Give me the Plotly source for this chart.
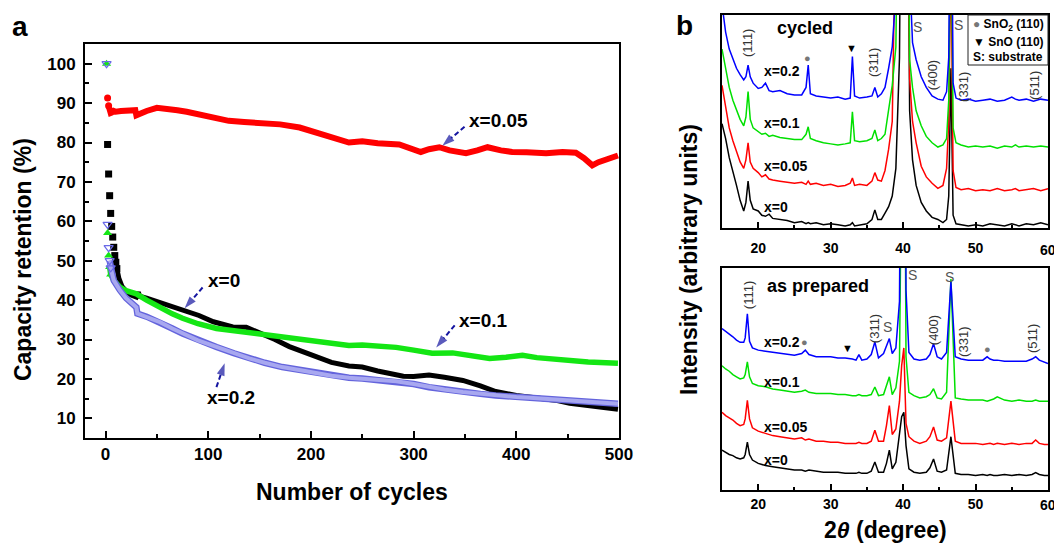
import plotly.graph_objects as go

FONT = "Liberation Sans, Arial, Helvetica, sans-serif"

# ---------------- Panel a: capacity retention vs cycle ----------------
CYC_BLACK = [2, 3, 4, 5, 6, 7, 8, 9, 10, 11, 13, 16, 20, 25, 30, 32, 33, 40, 52, 65,
             77, 91, 105, 124, 137, 150, 165, 179, 192, 205, 220, 237, 250, 265, 277, 290, 300, 315, 330, 348,
             365, 380, 400, 415, 429, 440, 452, 475, 499]
RET_BLACK = [79.5, 72, 66.5, 62, 58.7, 56, 53.4, 51.3, 49.6, 48, 45.5, 43.5, 42.3, 41.3, 40.8, 42, 41, 40.5, 39.5, 38.5,
             37.3, 36.1, 34.5, 33.2, 33.1, 31.8, 30, 28.2, 27, 25.6, 24.2, 23.3, 23, 22, 21.4, 20.7, 20.6, 21, 20.4, 19.6,
             18.2, 16.8, 15.8, 15.4, 15.0, 14.5, 13.8, 13, 12.3]

CYC_RED = [2, 3, 4, 5, 6, 8, 10, 15, 20, 25, 29, 30, 32, 40, 50, 60, 70, 79, 90, 100,
           108, 120, 135, 156, 170, 189, 205, 221, 237, 250, 265, 286, 300, 307, 315, 325, 335, 351, 362, 372,
           385, 396, 410, 429, 445, 458, 466, 474, 480, 490, 499]
RET_RED = [91.3, 89.3, 88.2, 87.5, 87.6, 88, 87.8, 88, 88, 88.1, 88.2, 86.9, 87.2, 88, 88.8, 88.6, 88.2, 87.8, 87.2, 86.5,
           86, 85.5, 85.2, 84.8, 84.6, 83.8, 82.5, 81.3, 80, 80.3, 79.8, 79.5, 78.3, 77.6, 78.3, 78.8, 78, 77.3, 78, 78.8,
           78, 77.6, 77.5, 77.3, 77.6, 77.4, 76, 74.2, 75, 75.8, 76.7]

CYC_GREEN = [1, 2, 3, 4, 5, 8, 14, 20, 30, 40, 52, 65, 75, 90, 108, 125, 140, 155, 172, 190,
             205, 218, 237, 250, 265, 283, 300, 318, 338, 355, 374, 390, 406, 420, 445, 470, 499]
RET_GREEN = [100, 57, 51.3, 48.4, 46.5, 45, 43.3, 42.4, 41.6, 40, 38.2, 36.5, 35.4, 34, 32.8, 32.2, 31.9, 31.3, 30.6, 30,
             29.4, 29, 28.5, 28.6, 28.4, 28, 27.3, 26.5, 26.6, 25.9, 25.2, 25.5, 26, 25.4, 24.7, 24.3, 24]

CYC_BLUE = [1, 2, 3, 4, 5, 8, 14, 20, 30, 31, 40, 53, 65, 75, 90, 108, 125, 140, 155, 172,
            190, 205, 220, 237, 250, 265, 283, 300, 315, 330, 348, 365, 380, 400, 413, 430, 445, 470, 499]
RET_BLUE = [100, 59.2, 53.3, 50, 48.2, 45, 42.5, 40.5, 38.2, 36.6, 35.8, 34.4, 32.8, 31.5, 29.8, 28.1, 26.5, 25.2, 24.1, 23,
            22.2, 21.4, 20.8, 20.3, 20.1, 19.8, 19.4, 18.7, 17.9, 17.3, 16.7, 16.2, 15.8, 15.4, 15.2, 14.9, 14.6, 14.1, 13.7]

# label text, label position, arrow tail, arrow tip (data units of panel a)
LABELS_A = [
    ("x=0.05", (351.5, 85.6), (349.6, 84.0), (328, 79.2)),
    ("x=0", (98, 45.0), (94.5, 43.2), (77, 37.9)),
    ("x=0.2", (96.4, 15.3), (108, 17.9), (116, 24.0)),
    ("x=0.1", (342, 34.8), (340, 33.6), (322, 28.0)),
]

# ---------------- Panel b: XRD patterns ----------------
TH_TOP = [15, 15.5, 16, 16.5, 17, 17.5, 18, 18.3, 18.6, 18.9, 19.3, 20, 20.5, 21, 21.5, 22, 23, 24, 25, 26,
          26.6, 26.9, 27.2, 28, 29, 30, 31, 32, 32.7, 33, 33.3, 34, 35, 35.7, 36.1, 36.5, 37, 37.5, 38, 38.5,
          39, 39.5, 40.2, 40.9, 41.3, 41.8, 42.5, 43.2, 44, 44.8, 45.5, 46, 46.3, 46.6, 46.9, 47.3, 48, 49, 50, 51,
          52, 53, 54, 55, 55.5, 56, 57, 58, 59, 60]
CYC_X0 = [49, 42, 33, 27, 20, 13, 8, 12, 22, 13, 9, 8, 6, 5.5, 6.5, 4.5, 4, 3.5, 2.5, 3,
          2, 2.5, 2, 2.5, 1.5, 2, 1.5, 1, 1.5, 2.5, 1, 1.5, 2, 4, 8.5, 4, 4, 7, 10, 15,
          28, 80, 400, 55, 32, 20, 12, 8, 5, 4, 2.5, 4, 15, 75, 6, 2, 1.5, 1, 1.5, 1,
          2, 1.5, 1, 2, 1.5, 1, 2, 1.5, 2.5, 1.5]
CYC_X005 = [67, 57, 47, 41, 36, 31, 28, 32, 40, 31, 28, 26, 24, 25, 23, 22.5, 22, 21.5, 21, 21.5,
            20.5, 22, 20.5, 21, 20, 20.5, 19.5, 20, 21, 23.5, 20, 20.5, 20, 22, 26, 22.5, 22, 27, 37, 50,
            87, 200, 400, 70, 50, 40, 29, 24, 21, 18.6, 20, 28, 50, 130, 27, 19, 18, 18.5, 17.5, 18,
            17.5, 18.5, 17.5, 18, 18.5, 17.5, 18, 18.5, 17.5, 18.5]
CYC_X01 = [84, 75, 66, 60, 55, 51, 48, 52, 64, 51, 47, 45, 44, 44.5, 43, 43.5, 42.5, 42, 41.5, 41.5,
           44, 47.5, 42, 41, 40, 39.5, 39, 39.5, 40, 54.5, 41, 40.5, 41, 42, 46, 41, 42, 44, 55, 67,
           85, 200, 400, 79, 66, 55, 48, 43, 40, 38, 39, 42, 60, 160, 47, 40, 39, 38, 38.5, 38,
           38.5, 37.5, 38.5, 38, 39, 38, 38.5, 38, 38.5, 38]
CYC_X02 = [105, 92, 84, 79, 75, 72, 69.5, 71, 76.5, 71, 68, 65.5, 66, 68, 64.5, 64, 64.5, 63, 62.5, 62.5,
           66, 76.5, 63, 62, 61.5, 61, 61.5, 60.5, 61, 80.5, 62, 61, 61.5, 62, 66, 61.5, 63, 66, 75, 85,
           110, 250, 400, 120, 87, 79, 71, 66, 62, 60.5, 60, 64, 80, 200, 68, 61, 60, 60.5, 59.5, 60,
           60.5, 59.5, 60, 61.5, 60.5, 60, 60.5, 59.5, 60.5, 60]

TH_BOT = [15, 15.5, 16, 16.5, 17, 17.5, 18, 18.2, 18.5, 18.8, 19.2, 20, 21, 22, 23, 24, 25, 26, 26.5, 27,
          28, 29, 30, 31, 32, 33, 33.5, 33.9, 34.3, 35, 35.6, 36.1, 36.6, 37.3, 37.7, 38.1, 38.5, 39, 39.5, 39.8,
          40.1, 40.4, 40.8, 41.5, 42.3, 43.2, 43.7, 44.2, 44.7, 45.3, 46, 46.6, 47.2, 48, 49, 50, 51, 51.6, 52, 52.5,
          53, 54, 55, 56, 57, 57.8, 58.3, 58.8, 59.5, 60]
PREP_X0 = [18, 17, 16, 15.5, 14.5, 14, 14.5, 16, 21.6, 16, 13.5, 12, 11, 10.5, 10, 9.5, 9, 9, 8.5, 9,
           8.5, 8, 8, 8, 7.5, 7.5, 7.5, 8, 7.5, 7.5, 8.5, 12.6, 8, 8, 12, 18, 9.5, 12.5, 24, 33,
           35, 20, 9.5, 8, 7.5, 8, 10, 14, 8.5, 8, 9, 24, 7.5, 7, 7, 6.5, 7, 6.5, 7, 6.5,
           6.5, 7, 6.5, 7, 6.5, 7, 7.8, 7, 6.5, 6.5]
PREP_X005 = [35, 33.5, 32.5, 31.5, 30, 29, 29.5, 32, 40.4, 32, 28, 26.5, 25.5, 24.5, 24, 23.5, 23, 23.5, 22.5, 23,
             22, 22, 21.5, 21.5, 21, 21, 21, 21.5, 21, 21, 22, 26.9, 22, 22, 29, 38, 25, 27.5, 40, 56,
             64, 30, 24, 22, 21, 22, 24, 28.4, 22.5, 22, 23.5, 40, 22, 21, 21, 21, 20.5, 21, 21, 20.5,
             21, 20.5, 21, 20.5, 21, 21, 22.5, 21, 20.5, 20.5]
PREP_X01 = [56, 54.5, 53.5, 52, 51, 50, 50.5, 52, 57.7, 51, 48, 47, 46.5, 45.5, 45, 44.5, 44, 44.5, 45, 44,
            43.5, 43.5, 43.5, 43, 43, 42.5, 42.5, 43, 42.5, 42.5, 43, 46.4, 42.5, 43, 47, 51, 43, 46, 58, 110,
            250, 60, 44, 42.5, 41.5, 42, 43, 45.6, 41.5, 41, 44, 95, 41.5, 41, 40.5, 40.5, 40.5, 40, 40.5, 41,
            42, 40.5, 40, 40.5, 40, 40, 40.5, 40, 40, 40]
PREP_X02 = [72.7, 71.5, 70.5, 69, 67.5, 66.5, 66.5, 68.5, 79.4, 67, 64, 63, 62.5, 62, 61.5, 61, 60.7, 61.5, 63, 61,
            60, 60, 60, 59.5, 59.5, 59, 58.5, 61, 58.5, 59, 61, 66.7, 59.5, 61.5, 65, 68.2, 61.4, 64, 85, 200,
            400, 90, 62, 59, 58.5, 59, 61, 65.9, 60, 59, 62, 93.7, 60, 59, 58.5, 58.5, 58.5, 60, 59, 58.5,
            58.5, 58, 58, 58, 58, 59, 60, 58.5, 57.5, 57]

SAMPLE_LABELS = ["x=0", "x=0.05", "x=0.1", "x=0.2"]
XRD_COLORS = ["#000000", "#ff0000", "#00e000", "#0000ff"]

for a, b in [(CYC_BLACK, RET_BLACK), (CYC_RED, RET_RED), (CYC_GREEN, RET_GREEN), (CYC_BLUE, RET_BLUE)]:
    assert len(a) == len(b)
for s in [CYC_X0, CYC_X005, CYC_X01, CYC_X02]:
    assert len(s) == len(TH_TOP)
for s in [PREP_X0, PREP_X005, PREP_X01, PREP_X02]:
    assert len(s) == len(TH_BOT)

fig = go.Figure()


def add_series(cyc, ret, color, symbol, msize, n_mark, i_line, lw, mline=None):
    fig.add_trace(go.Scatter(x=cyc[i_line:], y=ret[i_line:], mode="lines",
                             line=dict(color=color, width=lw), showlegend=False,
                             xaxis="x", yaxis="y", hoverinfo="skip"))
    mk = dict(symbol=symbol, size=msize, color=color)
    if mline:
        mk["line"] = mline
    fig.add_trace(go.Scatter(x=cyc[:n_mark], y=ret[:n_mark], mode="markers",
                             marker=mk, showlegend=False, xaxis="x", yaxis="y"))


add_series(CYC_BLACK, RET_BLACK, "#000000", "square", 7, 10, 9, 5)
add_series(CYC_GREEN, RET_GREEN, "#14e614", "triangle-up", 8, 5, 3, 5.5)
# blue band: darker edge + lighter core
fig.add_trace(go.Scatter(x=CYC_BLUE[3:], y=RET_BLUE[3:], mode="lines",
                         line=dict(color="#6464dc", width=6.5), showlegend=False,
                         xaxis="x", yaxis="y", hoverinfo="skip"))
fig.add_trace(go.Scatter(x=CYC_BLUE[3:], y=RET_BLUE[3:], mode="lines",
                         line=dict(color="#a8a8f0", width=4), showlegend=False,
                         xaxis="x", yaxis="y", hoverinfo="skip"))
fig.add_trace(go.Scatter(x=CYC_BLUE[:5], y=RET_BLUE[:5], mode="markers",
                         marker=dict(symbol="triangle-down-open", size=8, color="#6a6ae8",
                                     line=dict(width=1.2)),
                         showlegend=False, xaxis="x", yaxis="y"))
add_series(CYC_RED, RET_RED, "#ff0000", "circle", 7, 2, 1, 6)

# XRD traces
for ys, col in zip([CYC_X0, CYC_X005, CYC_X01, CYC_X02], XRD_COLORS):
    fig.add_trace(go.Scatter(x=TH_TOP, y=ys, mode="lines", line=dict(color=col, width=1.5),
                             showlegend=False, xaxis="x2", yaxis="y2"))
for ys, col in zip([PREP_X0, PREP_X005, PREP_X01, PREP_X02], XRD_COLORS):
    fig.add_trace(go.Scatter(x=TH_BOT, y=ys, mode="lines", line=dict(color=col, width=1.5),
                             showlegend=False, xaxis="x3", yaxis="y3"))

annotations = []
shapes = []
ARROW_COLOR = "#1414a0"
for text, (lx, ly), (tx, ty), (hx, hy) in LABELS_A:
    annotations.append(dict(x=lx, y=ly, xref="x", yref="y", text=text, showarrow=False,
                            xanchor="left", yanchor="middle",
                            font=dict(family=FONT, size=19, color="black", weight="bold")))
    # dashed pointer with an arrow-shaped marker at its tip
    fig.add_trace(go.Scatter(x=[tx, hx], y=[ty, hy], mode="lines+markers",
                             line=dict(color=ARROW_COLOR, width=2, dash="5px,3px"),
                             marker=dict(symbol=["circle", "arrow"], size=[0, 13],
                                         angleref="previous", color=ARROW_COLOR,
                                         line=dict(width=0)),
                             showlegend=False, xaxis="x", yaxis="y", hoverinfo="skip"))


def txt(x, y, text, size, xref="paper", yref="paper", angle=0, color="black", bold=True,
        xanchor="center", yanchor="middle"):
    annotations.append(dict(x=x, y=y, xref=xref, yref=yref, text=text, showarrow=False,
                            textangle=angle, xanchor=xanchor, yanchor=yanchor,
                            font=dict(family=FONT, size=size, color=color,
                                      weight="bold" if bold else "normal")))


W, H = 1054, 550
txt(0.0218, 0.529, "Capacity retention (%)", 23, angle=-90)
txt(0.334, 0.1055, "Number of cycles", 23)
txt(0.6537, 0.529, "Intensity (arbitrary units)", 23, angle=-90)
txt(0.8397, 0.0364, "2<i>θ</i> (degree)", 23)
txt(0.019, 0.9527, "a", 28)
txt(0.649, 0.9545, "b", 28)
# last x tick label of panel b sits at the page edge (plotly drops it when margins are fixed)
txt(60, 1 - 250 / H, "60", 14, "x2", "paper")
txt(60, 1 - 505 / H, "60", 14, "x3", "paper")

GRAY = "#555555"
# top (cycled)
txt(26.4, 93.9, "cycled", 18, "x2", "y2")
for s, yv in zip(SAMPLE_LABELS, [9.9, 29.1, 49.3, 73.7]):
    txt(20.5, yv, s, 14, "x2", "y2", xanchor="left")
for lab, xv, yv in [("(111)", 18.6, 86.9), ("(311)", 36.0, 77.5), ("(400)", 44.0, 71.8),
                    ("(331)", 48.4, 66.2), ("(511)", 58.05, 67.1)]:
    txt(xv, yv, lab, 13, "x2", "y2", angle=-90, color="#333333", bold=False)
txt(42.0, 94.4, "S", 14, "x2", "y2", color=GRAY, bold=False)
txt(47.7, 95.3, "S", 14, "x2", "y2", color=GRAY, bold=False)
txt(26.8, 79.8, "●", 11, "x2", "y2", color="#777777", bold=False)
txt(32.9, 84.5, "▼", 11, "x2", "y2", color="black", bold=False)
# bottom (as prepared)
txt(28.2, 91.9, "as prepared", 18, "x3", "y3")
for s, yv in zip(SAMPLE_LABELS, [13.5, 28.4, 48.6, 66.7]):
    txt(20.5, yv, s, 14, "x3", "y3", xanchor="left")
for lab, xv, yv in [("(111)", 18.6, 87.8), ("(311)", 36.0, 72.5), ("(400)", 44.3, 72.1),
                    ("(331)", 48.4, 66.7), ("(511)", 57.8, 68.0)]:
    txt(xv, yv, lab, 13, "x3", "y3", angle=-90, color="#333333", bold=False)
for xv, yv in [(37.8, 73.4), (41.3, 96.8), (46.4, 95.9)]:
    txt(xv, yv, "S", 14, "x3", "y3", color=GRAY, bold=False)
txt(26.4, 66.7, "●", 11, "x3", "y3", color="#777777", bold=False)
txt(51.6, 63.5, "●", 11, "x3", "y3", color="#777777", bold=False)
txt(32.3, 64.0, "▼", 11, "x3", "y3", color="black", bold=False)

# legend box for panel b
shapes.append(dict(type="rect", xref="paper", yref="paper", x0=968 / W, x1=1048 / W,
                   y0=1 - 65 / H, y1=1 - 15 / H, line=dict(color="#222222", width=1)))
txt(971 / W, 1 - 25 / H, '<span style="color:#777777">●</span> SnO<sub>2</sub> (110)', 12, xanchor="left")
txt(971 / W, 1 - 42 / H, "▼ SnO (110)", 12, xanchor="left")
txt(971 / W, 1 - 57 / H, "S: substrate", 12, xanchor="left")

axis_common = dict(showline=True, mirror=True, linecolor="black", showgrid=False, zeroline=False,
                   ticks="inside", tickcolor="black", automargin=False)

fig.update_layout(
    width=W, height=H, autosize=False, margin=dict(l=0, r=0, t=0, b=0, pad=0),
    paper_bgcolor="white", plot_bgcolor="white", showlegend=False,
    xaxis=dict(domain=[85 / W, 619 / W], range=[-20, 500], anchor="y", tick0=0, dtick=100,
               ticklen=7, tickwidth=2, linewidth=2,
               minor=dict(dtick=50, ticks="inside", ticklen=4, tickwidth=2, tickcolor="black"),
               tickfont=dict(family=FONT, size=17, color="black", weight="bold"), **axis_common),
    yaxis=dict(domain=[1 - 438 / H, 1 - 44 / H], range=[5, 105], anchor="x", tick0=0, dtick=10,
               ticklen=7, tickwidth=2, linewidth=2, ticklabelstandoff=4,
               minor=dict(dtick=5, ticks="inside", ticklen=4, tickwidth=2, tickcolor="black"),
               tickfont=dict(family=FONT, size=17, color="black", weight="bold"), **axis_common),
    xaxis2=dict(domain=[722 / W, 1048 / W], range=[15, 60], anchor="y2", tick0=0, dtick=10,
                ticklen=6, tickwidth=1.5, linewidth=1.5, ticklabelstandoff=6,
                minor=dict(dtick=5, ticks="inside", ticklen=3, tickwidth=1.5, tickcolor="black"),
                tickfont=dict(family=FONT, size=14, color="black", weight="bold"), **axis_common),
    yaxis2=dict(domain=[1 - 228 / H, 1 - 15 / H], range=[0, 100], anchor="x2",
                showline=True, mirror=True, linecolor="black", linewidth=1.5, showgrid=False,
                zeroline=False, showticklabels=False, ticks="", automargin=False),
    xaxis3=dict(domain=[722 / W, 1048 / W], range=[15, 60], anchor="y3", tick0=0, dtick=10,
                ticklen=6, tickwidth=1.5, linewidth=1.5, ticklabelstandoff=0,
                minor=dict(dtick=5, ticks="inside", ticklen=3, tickwidth=1.5, tickcolor="black"),
                tickfont=dict(family=FONT, size=14, color="black", weight="bold"), **axis_common),
    yaxis3=dict(domain=[1 - 490 / H, 1 - 268 / H], range=[0, 100], anchor="x3",
                showline=True, mirror=True, linecolor="black", linewidth=1.5, showgrid=False,
                zeroline=False, showticklabels=False, ticks="", automargin=False),
    annotations=annotations, shapes=shapes,
)

fig.write_html("out.html", config={"displayModeBar": False},
               post_script="document.body.style.margin='0px';")
